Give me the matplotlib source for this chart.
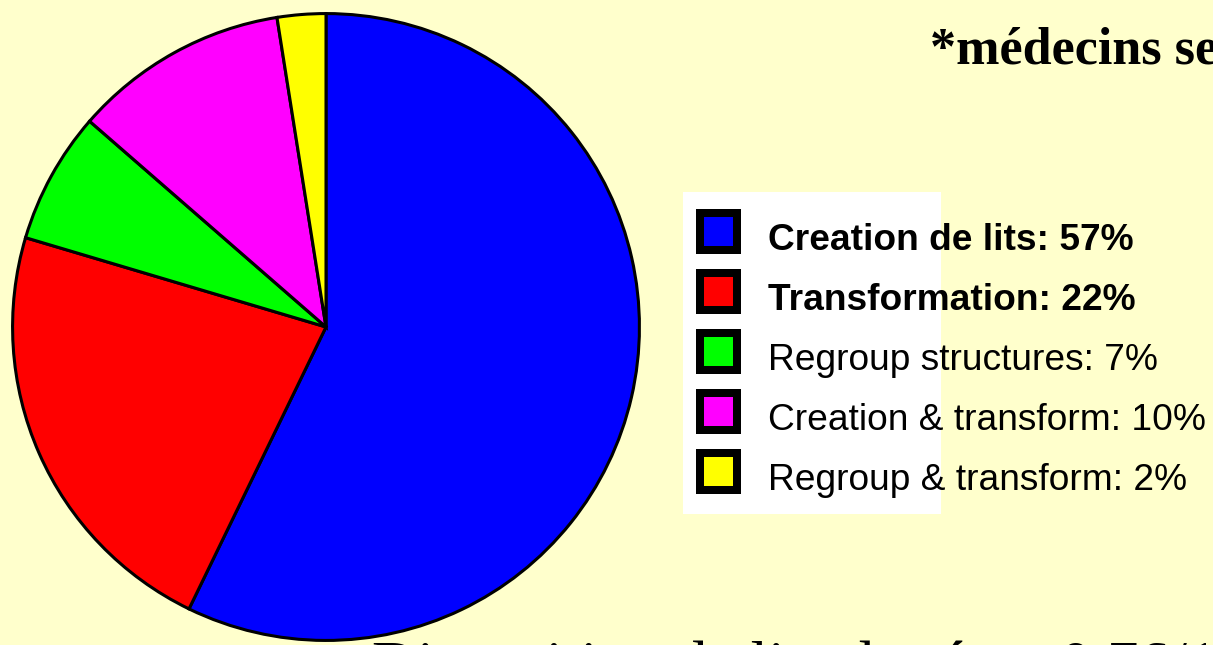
import matplotlib
matplotlib.use("Agg")
import matplotlib.pyplot as plt
from matplotlib.patches import Rectangle

# slice sizes (clockwise from 12 o'clock)
shares = [57.2, 22.4, 6.8, 11.1, 2.5]
colors = ["#0000ff", "#ff0000", "#00ff00", "#ff00ff", "#ffff00"]
labels = ["Creation de lits: 57%", "Transformation: 22%", "Regroup structures: 7%",
          "Creation & transform: 10%", "Regroup & transform: 2%"]
bold = [True, True, False, False, False]

W, H = 1213, 645
BG = "#ffffcc"
fig = plt.figure(figsize=(W / 100, H / 100), dpi=100, facecolor=BG)

# pie: centre (326, 327) px, radius 315 px
cx, cy, r = 326, 327, 315
ax = fig.add_axes([(cx - r) / W, (H - cy - r) / H, 2 * r / W, 2 * r / H])
ax.pie(shares, colors=colors, startangle=90, counterclock=False, radius=1,
       wedgeprops=dict(edgecolor="black", linewidth=2.2))
ax.set_xlim(-1.005, 1.005); ax.set_ylim(-1.005, 1.005)
ax.set_aspect("equal"); ax.axis("off")

# overlay in pixel coords for legend and text
ov = fig.add_axes([0, 0, 1, 1], facecolor="none")
ov.set_xlim(0, W); ov.set_ylim(H, 0); ov.axis("off")
ov.add_patch(Rectangle((683, 192), 258, 322, facecolor="white", edgecolor="none"))
rows_y = [240, 300, 360, 420, 480]
for y, c, lab, b in zip(rows_y, colors, labels, bold):
    ov.add_patch(Rectangle((696, y - 9 - 22.5), 45, 45, facecolor="black", edgecolor="none"))
    ov.add_patch(Rectangle((704, y - 9 - 14.5), 29, 29, facecolor=c, edgecolor="none"))
    ov.text(768, y + 1, lab, fontsize=26.7, family="Liberation Sans",
            weight="bold" if b else "normal", va="center", ha="left")

ov.text(930, 63, "*médecins seniors", fontsize=37.5, family="Liberation Serif",
        weight="bold", va="baseline", ha="left")
ov.text(372, 685, "Disposition de lits de réa = 0.76/1000", fontsize=45,
        family="Liberation Serif", va="baseline", ha="left", clip_on=False)

fig.savefig("out.png", dpi=100, facecolor=BG)
